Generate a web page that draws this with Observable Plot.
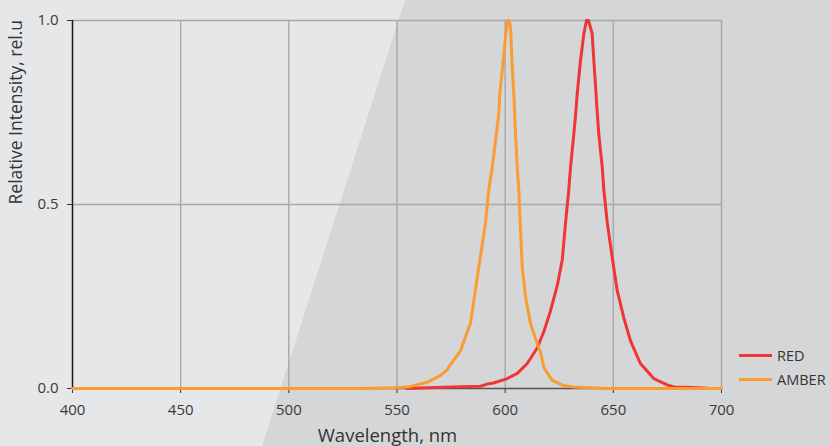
<!DOCTYPE html>
<html><head><meta charset="utf-8">
<script src="https://cdn.jsdelivr.net/npm/d3@7"></script>
<script src="https://cdn.jsdelivr.net/npm/@observablehq/plot@0.6"></script>
<style>
html,body{margin:0;padding:0;background:#e6e7e9;overflow:hidden}
#wrap{position:relative;width:830px;height:446px;font-family:"Open Sans",sans-serif;overflow:hidden}
#shade{position:absolute;left:0;top:0;width:830px;height:446px;background:#d5d6d8;clip-path:polygon(405px 0,830px 0,830px 446px,262px 446px)}
#chart{position:absolute;left:0;top:0}
#legend{position:absolute;left:739px;top:343px;font-size:14.5px;color:#333;white-space:nowrap}
.item{display:flex;align-items:center;height:24px}
.swatch{width:33px;height:3px;margin-right:5px}
</style></head>
<body><div id="wrap"><div id="shade"></div><div id="chart"></div><div id="legend"></div></div>
<script>
const seriesNames = ["RED", "AMBER"];
const seriesColors = ["#ef3535", "#f89c33"];

const redWavelength = [554.7,564,579.4,588.6,591.7,594.7,600.9,605.6,610.2,614.8,617.9,620.9,624.1,626.4,627.9,629.4,630.2,631.7,632.5,633.3,634.8,636.4,637.6,638.5,640.2,641,641.8,642.5,643.3,644.9,645.6,647.2,649.5,651.8,654.8,657.9,662.5,668.7,674.9,678,685.7,693.4];
const redIntensity   = [0,0.002,0.005,0.006,0.012,0.015,0.027,0.041,0.068,0.11,0.155,0.21,0.28,0.35,0.45,0.54,0.60,0.69,0.74,0.80,0.89,0.965,1.0,1.0,0.965,0.89,0.82,0.755,0.69,0.60,0.54,0.45,0.356,0.266,0.193,0.13,0.068,0.027,0.01,0.004,0.003,0.001];

const amberWavelength = [400,450,500,533,548.5,556,564,570,573,576,579.4,581,584,586.3,588.6,590.9,592.4,594,595.5,597.1,597.5,599.1,600.2,601.3,601.8,602.5,603.3,604,604.8,605.6,606.3,607.1,607.9,609.4,611.7,614.8,616.3,617.9,618.7,621.8,627,631.7,647,700];
const amberIntensity  = [0,0,0,0,0.002,0.005,0.017,0.035,0.05,0.075,0.103,0.13,0.178,0.27,0.36,0.45,0.54,0.60,0.67,0.75,0.80,0.89,0.96,1.0,1.0,0.98,0.87,0.80,0.69,0.60,0.54,0.43,0.33,0.25,0.177,0.122,0.10,0.057,0.049,0.022,0.008,0.004,0,0];

const xTicks = [400,450,500,550,600,650,700];
const yTicks = [0,0.5,1];
const xLabel = "Wavelength, nm";
const yLabel = "Relative Intensity, rel.u";

const red = redWavelength.map((w,i)=>({w, v: redIntensity[i]}));
const amber = amberWavelength.map((w,i)=>({w, v: amberIntensity[i]}));

const gridStyle = {stroke:"#a9a9a9", strokeOpacity:1, strokeWidth:1.5};

const chart = Plot.plot({
  width: 830, height: 446,
  marginLeft: 72, marginRight: 109, marginTop: 20, marginBottom: 58,
  style: {background:"transparent", fontFamily:"'Open Sans', sans-serif", fontSize:"15px", color:"#3a3a3a", overflow:"visible"},
  x: {domain:[400,700]},
  y: {domain:[0,1]},
  marks: [
    Plot.gridX(xTicks.slice(1), gridStyle),
    Plot.gridY([0.5,1], gridStyle),
    Plot.axisX(xTicks, {tickSize:5, tickPadding:11, label:null, stroke:"#333"}),
    Plot.axisY(yTicks, {tickSize:5, tickPadding:9, tickFormat:d3.format(".1f"), label:null, stroke:"#333"}),
    Plot.ruleY([0], {stroke:"#555", strokeWidth:1.5}),
    Plot.ruleX([400], {stroke:"#1a1a1a", strokeWidth:1.5}),
    Plot.line(red, {x:"w", y:"v", stroke:seriesColors[0], strokeWidth:3}),
    Plot.line(amber, {x:"w", y:"v", stroke:seriesColors[1], strokeWidth:3}),
    Plot.text([xLabel], {frameAnchor:"bottom", text:d=>d, dx:-9.5, dy:40, lineAnchor:"top", fontSize:18.5, fill:"#333"}),
    Plot.text([yLabel], {frameAnchor:"left", text:d=>d, rotate:-90, dx:-56, lineAnchor:"middle", fontSize:17.5, fill:"#333"})
  ]
});
document.getElementById("chart").appendChild(chart);

const legend = document.getElementById("legend");
seriesNames.forEach((n,i)=>{
  const it = document.createElement("div"); it.className="item";
  const sw = document.createElement("span"); sw.className="swatch"; sw.style.background=seriesColors[i];
  const tx = document.createElement("span"); tx.textContent=n;
  it.appendChild(sw); it.appendChild(tx); legend.appendChild(it);
});
</script>
</body></html>
